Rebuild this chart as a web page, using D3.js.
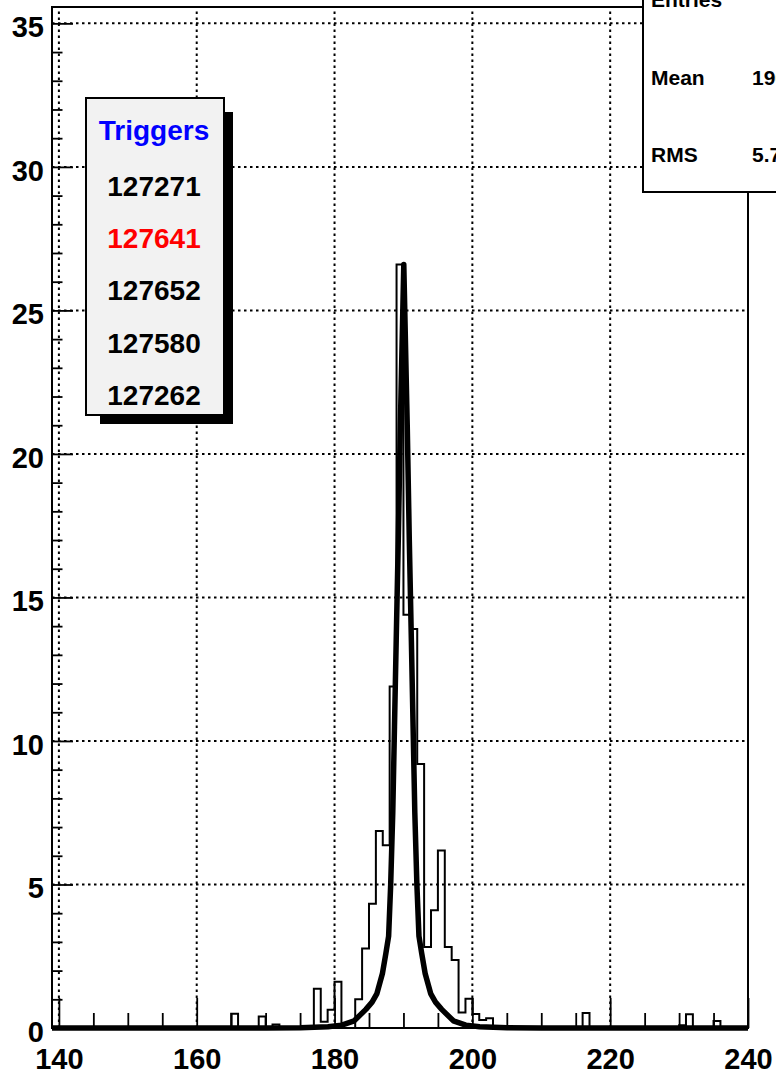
<!DOCTYPE html>
<html><head><meta charset="utf-8">
<script src="https://cdn.jsdelivr.net/npm/d3@7"></script>
<style>
html,body{margin:0;padding:0;background:#fff;overflow:hidden;}
svg{display:block;}
text{font-family:"Liberation Sans",Arial,Helvetica,sans-serif;font-weight:bold;}
</style></head>
<body>
<svg id="chart" width="776" height="1079"></svg>
<script>
// ---- data ----
const xTicks = [140, 160, 180, 200, 220, 240];
const yTicks = [0, 5, 10, 15, 20, 25, 30, 35];
// histogram: low edge of each non-empty bin (bin width 1) and its content
const binLow = [165, 169, 171, 177, 178, 179, 180, 183, 184, 185, 186, 187, 188, 189, 190, 191, 192, 193, 194, 195, 196, 197, 198, 199, 200, 201, 202, 216, 230, 231, 235];
const binVal = [0.5, 0.4, 0.12, 1.37, 0.22, 0.64, 1.61, 1.0, 2.77, 4.33, 6.86, 6.37, 11.9, 26.6, 14.4, 13.9, 9.2, 2.82, 4.1, 6.18, 2.82, 2.37, 0.54, 1.02, 0.49, 0.28, 0.34, 0.52, 0.1, 0.48, 0.24];
// fitted function
const fitX = [139, 170.05, 175.05, 179.05, 181.05, 182.85, 184.55, 185.45, 186.15, 186.95, 187.45, 187.85, 188.15, 188.45, 188.7, 188.95, 189.25, 189.55, 190.05, 190.55, 190.85, 191.15, 191.4, 191.65, 191.95, 192.25, 192.65, 193.15, 193.95, 194.65, 195.55, 197.25, 199.05, 201.05, 205.05, 210.05, 240];
const fitY = [0, 0, 0.01, 0.04, 0.1, 0.25, 0.65, 0.9, 1.2, 1.9, 2.6, 3.2, 5.0, 7.5, 10.5, 13.5, 17, 21, 26.6, 21, 17, 13.5, 10.5, 7.5, 5.0, 3.2, 2.6, 1.9, 1.2, 0.9, 0.65, 0.25, 0.1, 0.04, 0.01, 0, 0];
const triggers = ["127271", "127641", "127652", "127580", "127262"];
const triggerColors = ["#000000", "#ff0000", "#000000", "#000000", "#000000"];
const legendTitle = "Triggers";
const statNames = ["Entries", "Mean", "RMS"];
const statValues = ["209", "190.1", "5.741"];

// ---- layout ----
const svg = d3.select("#chart");
const L = 52, R = 748, T = 7, B = 1028;
const x = d3.scaleLinear().domain([139, 240]).range([L, R]);
const y = d3.scaleLinear().domain([0, 35.57]).range([B, T]);

// grid
const grid = svg.append("g").attr("stroke", "#000").attr("stroke-width", 2).attr("stroke-dasharray", "2.5,3.5");
grid.selectAll("line.gx").data(xTicks).join("line").attr("class", "gx")
  .attr("x1", d => x(d)).attr("x2", d => x(d)).attr("y1", B).attr("y2", T);
grid.selectAll("line.gy").data(yTicks).join("line").attr("class", "gy")
  .attr("x1", L).attr("x2", R).attr("y1", d => y(d)).attr("y2", d => y(d));

// histogram
const histPts = [[139, 0]];
const valMap = new Map(binLow.map((b, i) => [b, binVal[i]]));
for (let b = 139; b < 240; b++) {
  const v = valMap.get(b) || 0;
  histPts.push([b, v], [b + 1, v]);
}
histPts.push([240, 0]);
const line = d3.line().x(d => x(d[0])).y(d => y(d[1]));
svg.append("path").attr("d", line(histPts)).attr("fill", "none")
  .attr("stroke", "#000").attr("stroke-width", 2).attr("stroke-linejoin", "miter");

// fit curve
svg.append("path").attr("d", line(fitX.map((d, i) => [d, fitY[i]]))).attr("fill", "none")
  .attr("stroke", "#000").attr("stroke-width", 5.5).attr("stroke-linejoin", "round");

// axes
const yMinor = d3.range(0, 36).filter(v => v % 5 !== 0);
const xMinor = d3.range(140, 241, 5).filter(v => v % 20 !== 0);

const gy = svg.append("g").attr("transform", `translate(${L},0)`)
  .call(d3.axisLeft(y).tickValues(yTicks).tickSizeInner(-21).tickSizeOuter(0).tickPadding(8).tickFormat(d3.format("d")));
const gyMinor = svg.append("g").attr("transform", `translate(${L},0)`)
  .call(d3.axisLeft(y).tickValues(yMinor).tickSizeInner(-10.5).tickSizeOuter(0).tickFormat(""));
const gx = svg.append("g").attr("transform", `translate(0,${B})`)
  .call(d3.axisBottom(x).tickValues(xTicks).tickSizeInner(-30).tickSizeOuter(0).tickPadding(20).tickFormat(d3.format("d")));
const gxMinor = svg.append("g").attr("transform", `translate(0,${B})`)
  .call(d3.axisBottom(x).tickValues(xMinor).tickSizeInner(-15).tickSizeOuter(0).tickFormat(""));
[gy, gyMinor, gx, gxMinor].forEach(g => {
  g.select(".domain").remove();
  g.selectAll(".tick line").attr("stroke", "#000").attr("stroke-width", 1.8);
  g.selectAll("text").attr("fill", "#000").attr("font-size", 29)
    .attr("font-family", '"Liberation Sans",Arial,sans-serif').attr("font-weight", "bold");
});
gy.selectAll("text").attr("dy", 13.5);
gx.selectAll("text").attr("dy", "0.71em");

// frame
svg.append("rect").attr("x", L).attr("y", T).attr("width", R - L).attr("height", B - T)
  .attr("fill", "none").attr("stroke", "#000").attr("stroke-width", 2);

// legend box with shadow
const lg = svg.append("g");
lg.append("rect").attr("x", 100).attr("y", 112).attr("width", 133).attr("height", 312).attr("fill", "#000");
lg.append("rect").attr("x", 86).attr("y", 98).attr("width", 138).attr("height", 317)
  .attr("fill", "#f2f2f2").attr("stroke", "#000").attr("stroke-width", 2);
lg.append("text").attr("x", 154).attr("y", 140).attr("text-anchor", "middle")
  .attr("font-size", 28).attr("fill", "#0000ff").text(legendTitle);
lg.selectAll("text.trig").data(triggers).join("text").attr("class", "trig")
  .attr("x", 154).attr("y", (d, i) => 196 + i * 52.2).attr("text-anchor", "middle")
  .attr("font-size", 28).attr("fill", (d, i) => triggerColors[i]).text(d => d);

// stats box
const sg = svg.append("g");
sg.append("rect").attr("x", 643).attr("y", -20).attr("width", 200).attr("height", 212)
  .attr("fill", "#fff").attr("stroke", "#000").attr("stroke-width", 2);
sg.selectAll("text.sn").data(statNames).join("text").attr("class", "sn")
  .attr("x", 651).attr("y", (d, i) => 7 + i * 77.5).attr("font-size", 21).attr("fill", "#000").text(d => d);
sg.selectAll("text.sv").data(statValues).join("text").attr("class", "sv")
  .attr("x", (d, i) => i === 0 ? 790 : 752).attr("y", (d, i) => 7 + i * 77.5).attr("font-size", 21).attr("fill", "#000").text(d => d);
</script>
</body></html>
